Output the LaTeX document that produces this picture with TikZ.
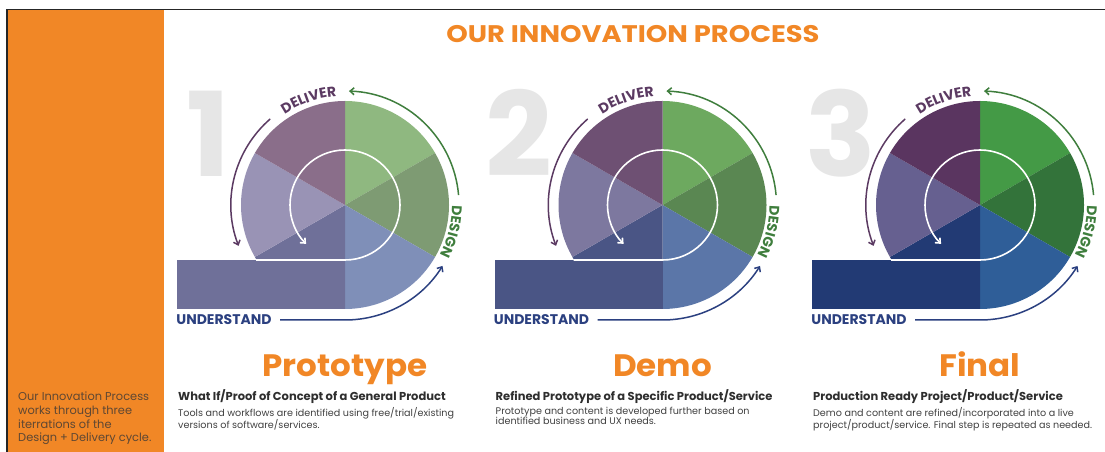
\documentclass[tikz,border=0pt]{standalone}
\usepackage{fontspec}
\setmainfont{Poppins}
\usepackage{tikz}
\usetikzlibrary{arrows.meta}
\usetikzlibrary{decorations.text}

\definecolor{brand}{HTML}{F18726}
\definecolor{panelink}{HTML}{5E4733}
\definecolor{numgray}{HTML}{E6E6E6}
\definecolor{dlvpurple}{HTML}{5B3A62}
\definecolor{dsggreen}{HTML}{3F7E3D}
\definecolor{undnavy}{HTML}{2B4080}
% wheel sectors per stage: ul upper left, lf left, ll lower left,
% lr lower right, rt right, ur upper right
\definecolor{ul1}{HTML}{8A6E8A}
\definecolor{lf1}{HTML}{9993B5}
\definecolor{ll1}{HTML}{6F7099}
\definecolor{lr1}{HTML}{7F8FB8}
\definecolor{rt1}{HTML}{7E9B73}
\definecolor{ur1}{HTML}{8FB880}
\definecolor{ul2}{HTML}{6E5073}
\definecolor{lf2}{HTML}{7D789F}
\definecolor{ll2}{HTML}{4A5585}
\definecolor{lr2}{HTML}{5B76A8}
\definecolor{rt2}{HTML}{5A8752}
\definecolor{ur2}{HTML}{6DA95F}
\definecolor{ul3}{HTML}{5A3560}
\definecolor{lf3}{HTML}{666090}
\definecolor{ll3}{HTML}{223A74}
\definecolor{lr3}{HTML}{2F5E98}
\definecolor{rt3}{HTML}{33733A}
\definecolor{ur3}{HTML}{449A46}

\begin{document}
\begin{tikzpicture}[x=1pt, y=1pt,
  bignum/.style={text=numgray, inner sep=0pt, anchor=base,
                 font=\fontsize{117}{117}\selectfont\bfseries},
  cyclearrow/.style={line width=1.5pt,
                     -{Straight Barb[length=4pt, width=7pt]}},
  innerloop/.style={white, line width=1.6pt,
                    -{Straight Barb[length=4pt, width=7pt]}},
  stagetitle/.style={text=brand, inner sep=0pt, anchor=base, xscale=1.05,
                     font=\fontsize{31}{31}\selectfont\bfseries},
  subhead/.style={text=black!82, inner sep=0pt, anchor=base west,
                  font=\fontsize{11.5}{13}\selectfont\bfseries},
  bodytext/.style={text=black!75, inner sep=0pt, anchor=north west,
                   align=left, font=\fontsize{9.6}{10.3}\selectfont}]
  \useasboundingbox (0,0) rectangle (1105,452);
  % side panel and frame
  \fill[brand] (8,0) rectangle (164,441.5);
  \draw[black!85, line width=1.4pt] (7,0) -- (7,442.5) -- (1105,442.5);
  \node[text=panelink, inner sep=0pt, anchor=north west, align=left,
        font=\fontsize{11.4}{13.7}\selectfont] (intro) at (18,60)
    {Our Innovation Process\\works through three\\iterrations of the\\Design + Delivery cycle.};
  \node[text=brand, inner sep=0pt, anchor=base, xscale=1.14,
        font=\fontsize{24}{24}\selectfont\bfseries] (heading) at (633,409)
    {OUR INNOVATION PROCESS};
  % one design + delivery wheel per stage
  \foreach \k/\cx/\dx/\stage in {1/345/-137/Prototype, 2/662.5/-143.5/Demo, 3/980/-139.5/Final} {
    \begin{scope}[shift={(\cx,247)}]
      \node[bignum] (num\k) at (\dx,28) {\k};
      \fill[fill=ur\k] (0,0) -- (90:104) arc[start angle=90, end angle=30, radius=104] -- cycle;
      \fill[fill=rt\k] (0,0) -- (30:104) arc[start angle=30, end angle=-30, radius=104] -- cycle;
      \fill[fill=lr\k] (0,0) -- (-30:104) arc[start angle=-30, end angle=-90, radius=104] -- cycle;
      \fill[fill=ll\k] (0,0) -- (-90:104) arc[start angle=-90, end angle=-150, radius=104] -- cycle;
      \fill[fill=lf\k] (0,0) -- (210:104) arc[start angle=210, end angle=150, radius=104] -- cycle;
      \fill[fill=ul\k] (0,0) -- (150:104) arc[start angle=150, end angle=90, radius=104] -- cycle;
      \fill[fill=ll\k] (-168,-104) rectangle (0,-55);
      \draw[innerloop] (-89,-55) -- (0,-55) arc[start angle=-90, end angle=225, radius=55];
      % outer cycle
      \draw[cyclearrow, dlvpurple] (131:114) arc[start angle=131, end angle=201, radius=114];
      \draw[cyclearrow, dsggreen] (5:114) arc[start angle=5, end angle=88, radius=114];
      \draw[cyclearrow, undnavy] (-65,-115) -- (0,-115) arc[start angle=-90, end angle=-32, radius=115];
      \path[decorate, decoration={text along path, text align=center,
            text={|\fontsize{14}{14}\selectfont\bfseries\color{dlvpurple}|DELIVER}}]
        (130:109) arc[start angle=130, end angle=88, radius=109];
      \path[decorate, decoration={text along path, text align=center,
            text={|\fontsize{14}{14}\selectfont\bfseries\color{dsggreen}|DESIGN}}]
        (7:107) arc[start angle=7, end angle=-35, radius=107];
      \node[text=undnavy, inner sep=0pt, font=\fontsize{14}{14}\selectfont\bfseries]
        (und\k) at (-121,-115) {UNDERSTAND};
      \node[stagetitle] (title\k) at (0,-172) {\stage};
    \end{scope}
  }
  % stage captions
  \node[subhead] (sub1) at (178,51) {What If/Proof of Concept of a General Product};
  \node[bodytext] (body1) at (178,45)
    {Tools and workflows are identified using free/trial/existing\\versions of software/services.};
  \node[subhead] (sub2) at (495.5,51) {Refined Prototype of a Specific Product/Service};
  \node[bodytext] (body2) at (495.5,45)
    {Prototype and content is developed further based on\\identified business and UX needs.};
  \node[subhead] (sub3) at (813,51) {Production Ready Project/Product/Service};
  \node[bodytext] (body3) at (813,45)
    {Demo and content are refined/incorporated into a live\\project/product/service. Final step is repeated as needed.};
\end{tikzpicture}
\end{document}
